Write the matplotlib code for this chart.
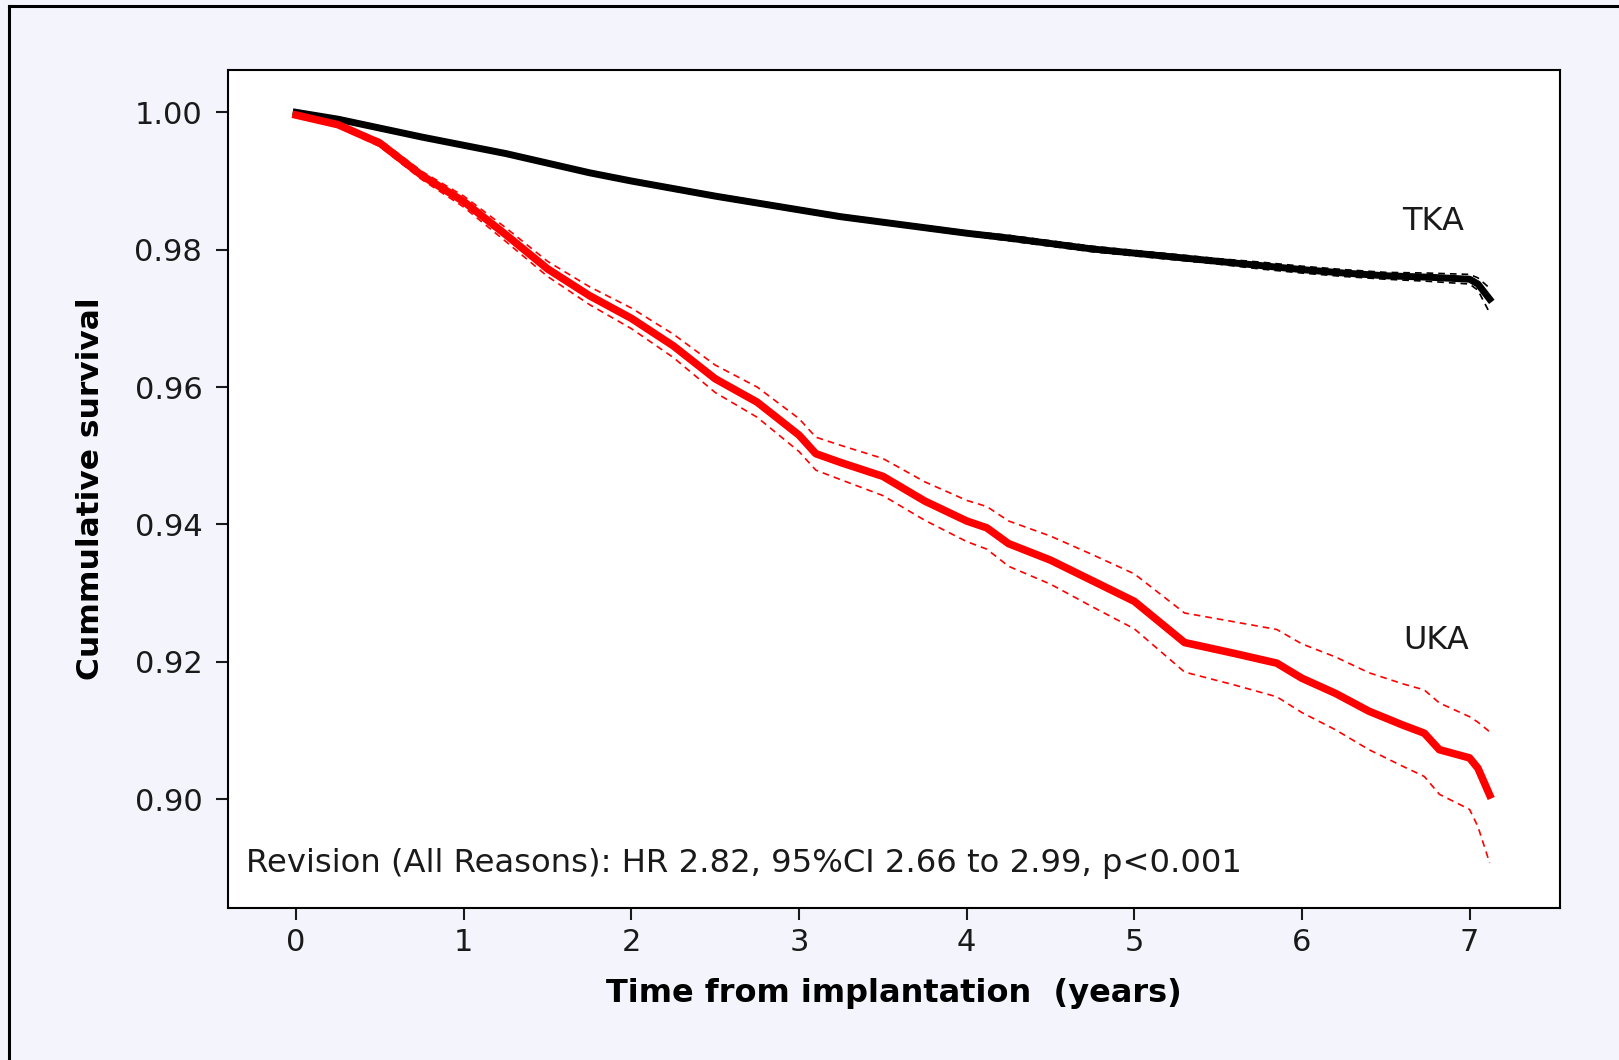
import matplotlib
matplotlib.use('Agg')
import matplotlib.pyplot as plt
from matplotlib.lines import Line2D
import numpy as np

plt.rcParams['font.family'] = ['DejaVu Sans']
plt.rcParams['axes.linewidth'] = 1.5

# TKA survival curve + 95% CI
tka_t = [0, 0.25, 0.5, 0.75, 1.0, 1.25, 1.5, 1.75, 2.0, 2.25, 2.5, 2.75, 3.0, 3.25, 3.5,
         3.75, 4.0, 4.25, 4.5, 4.75, 5.0, 5.25, 5.5, 5.75, 6.0, 6.25, 6.5, 6.75, 7.0, 7.05, 7.12]
tka_s = [1.0000, 0.9990, 0.9977, 0.9964, 0.9952, 0.9940, 0.9926, 0.9912, 0.9900, 0.9889,
         0.9878, 0.9868, 0.9858, 0.9848, 0.9840, 0.9832, 0.9824, 0.9817, 0.9809, 0.9801,
         0.9795, 0.9789, 0.9783, 0.9777, 0.9771, 0.9766, 0.9762, 0.9760, 0.9757, 0.9750, 0.9728]
tka_hi = [1.0000, 0.9992, 0.9979, 0.9966, 0.9954, 0.9942, 0.9928, 0.9914, 0.9902, 0.9892,
          0.9881, 0.9871, 0.9861, 0.9851, 0.9843, 0.9835, 0.9827, 0.9821, 0.9813, 0.9805,
          0.9799, 0.9793, 0.9787, 0.9782, 0.9776, 0.9771, 0.9767, 0.9766, 0.9764, 0.9759, 0.9744]
tka_lo = [1.0000, 0.9988, 0.9975, 0.9962, 0.9950, 0.9938, 0.9924, 0.9910, 0.9898, 0.9886,
          0.9875, 0.9865, 0.9855, 0.9845, 0.9837, 0.9829, 0.9821, 0.9813, 0.9805, 0.9797,
          0.9791, 0.9785, 0.9779, 0.9772, 0.9766, 0.9761, 0.9757, 0.9754, 0.9750, 0.9741, 0.9708]

# UKA survival curve + 95% CI
uka_t = [0, 0.25, 0.5, 0.75, 1.0, 1.25, 1.5, 1.75, 2.0, 2.25, 2.5, 2.75, 3.0, 3.1, 3.25, 3.5,
         3.75, 4.0, 4.12, 4.25, 4.5, 4.75, 5.0, 5.3, 5.6, 5.85, 6.0, 6.2, 6.4, 6.6, 6.73, 6.82,
         7.0, 7.05, 7.12]
uka_s = [0.9996, 0.9982, 0.9955, 0.9908, 0.9870, 0.9822, 0.9772, 0.9733, 0.9700, 0.9660,
         0.9612, 0.9578, 0.9530, 0.9503, 0.9490, 0.9470, 0.9434, 0.9405, 0.9395, 0.9372,
         0.9348, 0.9318, 0.9288, 0.9228, 0.9212, 0.9198, 0.9176, 0.9154, 0.9128, 0.9108,
         0.9096, 0.9072, 0.9060, 0.9045, 0.9006]
uka_hi = [0.9996, 0.9985, 0.9960, 0.9914, 0.9878, 0.9832, 0.9783, 0.9746, 0.9715, 0.9677,
          0.9632, 0.9600, 0.9554, 0.9527, 0.9515, 0.9496, 0.9462, 0.9435, 0.9426, 0.9405,
          0.9383, 0.9356, 0.9328, 0.9271, 0.9258, 0.9247, 0.9226, 0.9207, 0.9184, 0.9168,
          0.9159, 0.9140, 0.9120, 0.9112, 0.9098]
uka_lo = [0.9996, 0.9979, 0.9950, 0.9902, 0.9862, 0.9812, 0.9761, 0.9720, 0.9685, 0.9643,
          0.9592, 0.9556, 0.9506, 0.9479, 0.9465, 0.9442, 0.9406, 0.9375, 0.9364, 0.9339,
          0.9313, 0.9280, 0.9248, 0.9185, 0.9166, 0.9149, 0.9126, 0.9101, 0.9072, 0.9048,
          0.9033, 0.9007, 0.8985, 0.8960, 0.8907]

xticks = [0, 1, 2, 3, 4, 5, 6, 7]
yticks = [0.90, 0.92, 0.94, 0.96, 0.98, 1.00]

fig = plt.figure(figsize=(16.19, 10.60), dpi=100)
fig.patch.set_facecolor('#f4f4fd')
ax = fig.add_axes([0.1408, 0.1438, 0.8228, 0.7902])
ax.set_facecolor('white')

dash = (0, (4, 3))
ax.plot(tka_t, tka_hi, color='black', lw=1.2, ls=dash)
ax.plot(tka_t, tka_lo, color='black', lw=1.2, ls=dash)
ax.plot(tka_t, tka_s, color='black', lw=5)
ax.plot(uka_t, uka_hi, color='red', lw=1.2, ls=dash)
ax.plot(uka_t, uka_lo, color='red', lw=1.2, ls=dash)
ax.plot(uka_t, uka_s, color='red', lw=5.5)

ax.set_xlim(-0.407, 7.54)
ax.set_ylim(0.88421, 1.00617)
ax.set_xticks(xticks)
ax.set_xticklabels([str(v) for v in xticks])
ax.set_yticks(yticks)
ax.set_yticklabels(['%.2f' % v for v in yticks])
ax.tick_params(direction='out', length=8.5, width=1.5, pad=10, labelsize=22,
               top=False, right=False, colors='#1a1a1a')
ax.tick_params(axis='x', pad=6)

ax.text(6.78, 0.98406, 'TKA', fontsize=23, ha='center', va='center', color='#1a1a1a')
ax.text(6.80, 0.92316, 'UKA', fontsize=23, ha='center', va='center', color='#1a1a1a')
ax.text(-0.30, 0.89068, 'Revision (All Reasons): HR 2.82, 95%CI 2.66 to 2.99, p<0.001',
        fontsize=23.2, ha='left', va='center', color='#1a1a1a')

ax.set_xlabel('Time from implantation  (years)', fontsize=23, fontweight='bold', labelpad=15)
ax.set_ylabel('Cummulative survival', fontsize=22.5, fontweight='bold')
ax.yaxis.set_label_coords(-0.092, 0.5)

# frame lines along the left and top edges of the picture
fig.add_artist(Line2D([9 / 1619, 9 / 1619], [0, 1 - 6 / 1060], color='black', lw=2.2,
                      transform=fig.transFigure))
fig.add_artist(Line2D([9 / 1619, 1], [1 - 6 / 1060, 1 - 6 / 1060], color='black', lw=2.2,
                      transform=fig.transFigure))

fig.savefig('out.png', dpi=100, facecolor=fig.get_facecolor())
